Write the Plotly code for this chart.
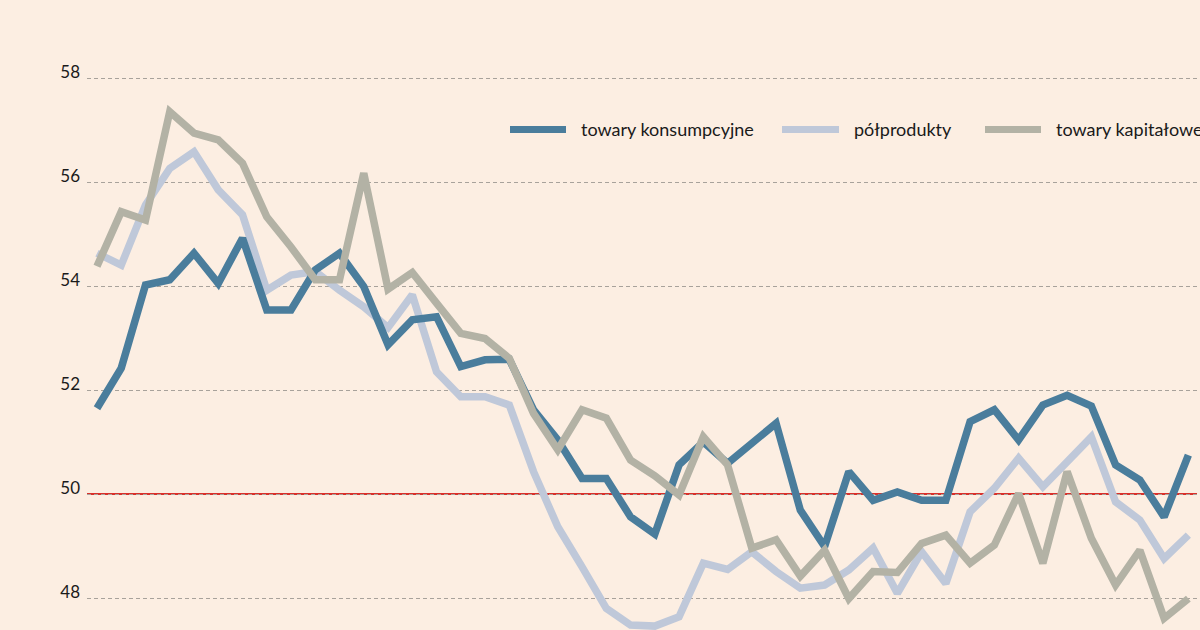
import plotly.graph_objects as go

# --- data ---
okresy = list(range(46))

towary_konsumpcyjne = [
    51.65, 52.42, 54.02, 54.12, 54.63, 54.05, 54.92, 53.54, 53.54, 54.31,
    54.63, 53.99, 52.87, 53.35, 53.41, 52.45, 52.58, 52.59, 51.62, 51.04,
    50.30, 50.30, 49.56, 49.23, 50.56, 51.00, 50.59, 50.97, 51.36, 49.69,
    48.99, 50.43, 49.88, 50.04, 49.88, 49.88, 51.39, 51.62, 51.04, 51.71,
    51.90, 51.69, 50.56, 50.27, 49.56, 50.75,
]
polprodukty = [
    54.63, 54.40, 55.56, 56.26, 56.58, 55.85, 55.37, 53.92, 54.21, 54.28,
    53.92, 53.60, 53.20, 53.83, 52.35, 51.87, 51.87, 51.71, 50.43, 49.37,
    48.60, 47.80, 47.48, 47.46, 47.64, 48.67, 48.55, 48.89, 48.51, 48.19,
    48.25, 48.54, 48.96, 48.09, 48.89, 48.28, 49.66, 50.11, 50.69, 50.14,
    50.62, 51.10, 49.85, 49.50, 48.76, 49.21,
]
towary_kapitalowe = [
    54.38, 55.43, 55.27, 57.35, 56.94, 56.81, 56.36, 55.33, 54.75, 54.12,
    54.12, 56.17, 53.94, 54.26, 53.67, 53.09, 52.99, 52.61, 51.55, 50.85,
    51.62, 51.46, 50.65, 50.35, 49.98, 51.10, 50.56, 48.96, 49.12, 48.42,
    48.92, 47.99, 48.51, 48.49, 49.05, 49.21, 48.67, 49.02, 50.01, 48.67,
    50.43, 49.15, 48.25, 48.92, 47.61, 47.99,
]
nazwy = ["towary konsumpcyjne", "półprodukty", "towary kapitałowe"]
y_ticks = [48, 50, 52, 54, 56, 58]
prog = 50

# --- styles ---
BG = "#FCEEE2"
C_BLUE = "#4A7D9C"
C_LIGHT = "#BFC8D9"
C_GRAY = "#B3B2A5"
FONT = "Lato, 'Open Sans', sans-serif"
W, H = 1200, 630
L_MARGIN = 87

fig = go.Figure()
series = [
    (polprodukty, nazwy[1], C_LIGHT),
    (towary_konsumpcyjne, nazwy[0], C_BLUE),
    (towary_kapitalowe, nazwy[2], C_GRAY),
]
for vals, name, col in series:
    fig.add_trace(go.Scatter(
        x=okresy, y=vals, name=name, mode="lines",
        line=dict(color=col, width=7.5),
        showlegend=False, hoverinfo="y+name",
    ))

# threshold line (between gridlines and traces)
fig.add_shape(type="line", xref="paper", yref="y", x0=0, x1=(1197 - L_MARGIN) / (W - L_MARGIN),
              y0=prog, y1=prog, line=dict(color="#D9302B", width=2), layer="between")

# manual legend (pixel positions converted to paper)
def px(xp):
    return (xp - L_MARGIN) / (W - L_MARGIN)

leg_y = 1 - 129.5 / H
legend_items = [
    (C_BLUE, 507, 569, 579, nazwy[0]),
    (C_LIGHT, 779, 842, 852, nazwy[1]),
    (C_GRAY, 982, 1044, 1054, nazwy[2]),
]
for col, xs0, xs1, xt, txt in legend_items:
    fig.add_shape(type="line", xref="paper", yref="paper", x0=px(xs0 + 3), x1=px(xs1 - 3),
                  y0=leg_y, y1=leg_y, line=dict(color=col, width=7))
    fig.add_annotation(xref="paper", yref="paper", x=px(xt), y=leg_y, text=txt,
                       showarrow=False, xanchor="left", yanchor="middle",
                       font=dict(family=FONT, size=18, color="#1A1A1A"))

fig.update_layout(
    width=W, height=H,
    margin=dict(l=L_MARGIN, r=0, t=0, b=0),
    paper_bgcolor=BG, plot_bgcolor=BG,
    font=dict(family=FONT, size=17, color="#1A1A1A"),
    showlegend=False,
    xaxis=dict(range=[-0.412, 45.48], showgrid=False, zeroline=False,
               showticklabels=False, showline=False, ticks=""),
    yaxis=dict(range=[47.385, 59.5], tickvals=y_ticks, ticktext=[str(t) for t in y_ticks],
               showgrid=True, gridcolor="#A8A29B", gridwidth=1, griddash="4px,3px",
               zeroline=False, showline=False, ticks="",
               ticklabelshift=-6, ticklabelstandoff=6,
               tickfont=dict(family=FONT, size=17, color="#1A1A1A")),
)

fig.write_html(
    "out.html",
    config={"displayModeBar": False},
    post_script="document.body.style.margin='0';document.body.style.background='" + BG + "';",
)
